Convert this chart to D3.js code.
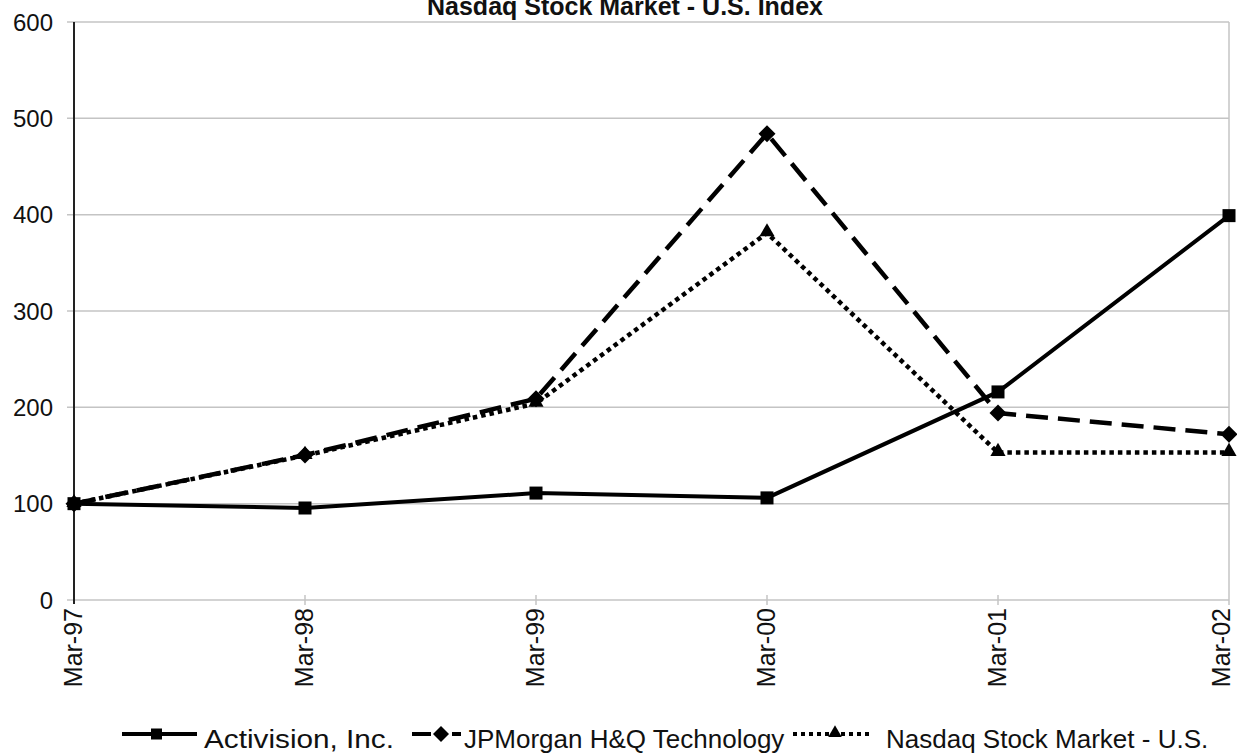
<!DOCTYPE html>
<html>
<head>
<meta charset="utf-8">
<script src="https://cdn.jsdelivr.net/npm/d3@7"></script>
<style>
  html, body { margin: 0; padding: 0; background: #fff; }
  svg { display: block; font-family: "Liberation Sans", Arial, Helvetica, sans-serif; }
</style>
</head>
<body>
<svg id="chart" width="1237" height="753"></svg>
<script>
const categories = ["Mar-97", "Mar-98", "Mar-99", "Mar-00", "Mar-01", "Mar-02"];
const activision = [100, 95.5, 111, 106, 216, 399];
const jpmorgan = [100, 150.5, 209, 484, 194, 172];
const nasdaq = [100, 150, 204, 381, 153, 153];
const yTicks = [0, 100, 200, 300, 400, 500, 600];
const seriesNames = ["Activision, Inc.", "JPMorgan H&Q Technology", "Nasdaq Stock Market - U.S."];
const titleText = "Nasdaq Stock Market - U.S. Index";

const svg = d3.select("#chart");
const x = d3.scalePoint().domain(categories).range([74, 1229]);
const y = d3.scaleLinear().domain([0, 600]).range([600, 22]);

// Title (top line cut off in original)
svg.append("text").attr("x", 427).attr("y", 15)
  .attr("font-size", 25).attr("font-weight", "bold").attr("fill", "#111")
  .text(titleText);

// Gridlines
svg.append("g").selectAll("line").data(yTicks).join("line")
  .attr("x1", 67).attr("x2", 1229)
  .attr("y1", d => y(d)).attr("y2", d => y(d))
  .attr("stroke", "#c4c4c4").attr("stroke-width", 1.5);

// Right border line
svg.append("line").attr("x1", 1229).attr("x2", 1229).attr("y1", y(600)).attr("y2", y(0) + 5)
  .attr("stroke", "#c4c4c4").attr("stroke-width", 1.5);

// X axis ticks
svg.append("g").selectAll("line").data(categories.slice(1, -1)).join("line")
  .attr("x1", d => x(d)).attr("x2", d => x(d))
  .attr("y1", y(0) - 5).attr("y2", y(0) + 5)
  .attr("stroke", "#c4c4c4").attr("stroke-width", 1.5);

// Y axis line
svg.append("line").attr("x1", 74).attr("x2", 74).attr("y1", y(600)).attr("y2", y(0) + 4)
  .attr("stroke", "#222").attr("stroke-width", 2);

// Y tick labels
svg.append("g").selectAll("text").data(yTicks).join("text")
  .attr("x", 53).attr("y", d => y(d)).attr("dy", "0.36em")
  .attr("text-anchor", "end").attr("font-size", 24).attr("fill", "#111")
  .text(d => d);

// X tick labels (rotated); the last one is kept inside the frame
svg.append("g").selectAll("text").data(categories).join("text")
  .attr("transform", d => `translate(${Math.min(x(d) - 1, 1221)},608) rotate(-90)`)
  .attr("dy", "0.36em").attr("text-anchor", "end")
  .attr("font-size", 25).attr("fill", "#111")
  .text(d => d);

const line = d3.line().x((d, i) => x(categories[i])).y(d => y(d));

// Nasdaq dotted
svg.append("path").datum(nasdaq).attr("d", line)
  .attr("fill", "none").attr("stroke", "#000").attr("stroke-width", 4.5)
  .attr("stroke-dasharray", "4.5,4");
// JPMorgan dashed
svg.append("path").datum(jpmorgan).attr("d", line)
  .attr("fill", "none").attr("stroke", "#000").attr("stroke-width", 4.5)
  .attr("stroke-dasharray", "22,10");
// Activision solid
svg.append("path").datum(activision).attr("d", line)
  .attr("fill", "none").attr("stroke", "#000").attr("stroke-width", 4);

const tri = d3.symbol().type(d3.symbolTriangle).size(100);
const diamondPath = r => `M0,${-r}L${r},0L0,${r}L${-r},0Z`;

svg.append("g").selectAll("path").data(nasdaq).join("path")
  .attr("d", tri).attr("transform", (d, i) => `translate(${x(categories[i])},${y(d) - 1})`)
  .attr("fill", "#000");
svg.append("g").selectAll("path").data(jpmorgan).join("path")
  .attr("d", diamondPath(8.5)).attr("transform", (d, i) => `translate(${x(categories[i])},${y(d)})`)
  .attr("fill", "#000");
svg.append("g").selectAll("rect").data(activision).join("rect")
  .attr("x", (d, i) => x(categories[i]) - 6.5).attr("y", d => y(d) - 6.5)
  .attr("width", 13).attr("height", 13).attr("fill", "#000");

// Legend
const ly = 734;
const ty = 748;
const lg = svg.append("g");
lg.append("line").attr("x1", 122).attr("x2", 197).attr("y1", ly).attr("y2", ly)
  .attr("stroke", "#000").attr("stroke-width", 4);
lg.append("rect").attr("x", 151).attr("y", ly - 5.5).attr("width", 11).attr("height", 11).attr("fill", "#000");
lg.append("text").attr("x", 204).attr("y", ty).attr("font-size", 26).attr("fill", "#111")
  .attr("textLength", 190).attr("lengthAdjust", "spacingAndGlyphs").text(seriesNames[0]);

lg.append("line").attr("x1", 412).attr("x2", 431).attr("y1", ly).attr("y2", ly)
  .attr("stroke", "#000").attr("stroke-width", 4);
lg.append("line").attr("x1", 452).attr("x2", 461).attr("y1", ly).attr("y2", ly)
  .attr("stroke", "#000").attr("stroke-width", 4);
lg.append("path").attr("d", diamondPath(8)).attr("transform", `translate(441,${ly})`).attr("fill", "#000");
lg.append("text").attr("x", 464).attr("y", ty).attr("font-size", 26).attr("fill", "#111").text(seriesNames[1]);

lg.append("line").attr("x1", 793).attr("x2", 872).attr("y1", ly).attr("y2", ly)
  .attr("stroke", "#000").attr("stroke-width", 4).attr("stroke-dasharray", "4,4");
lg.append("path").attr("d", d3.symbol().type(d3.symbolTriangle).size(80))
  .attr("transform", `translate(835,${ly - 1})`).attr("fill", "#000");
lg.append("text").attr("x", 886).attr("y", ty).attr("font-size", 26).attr("fill", "#111").text(seriesNames[2]);
</script>
</body>
</html>
